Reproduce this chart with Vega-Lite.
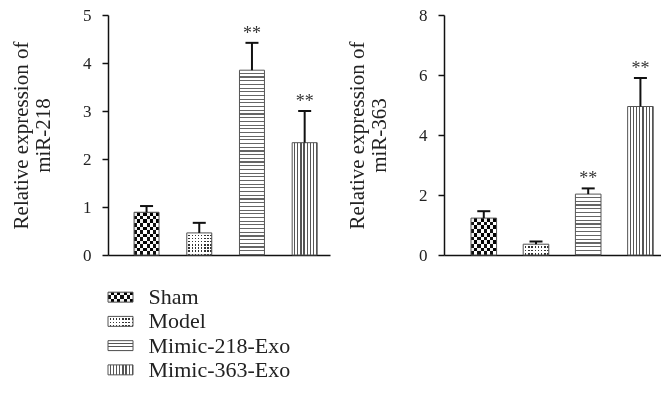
{
  "$schema": "https://vega.github.io/schema/vega-lite/v6.json",
  "background": "white",
  "padding": {"left": 7, "top": 6, "right": 5, "bottom": 0},
  "data": {"values": [
    {"gene": "miR-218", "group": "Sham", "mean": 0.89, "upper": 1.02, "sig": ""},
    {"gene": "miR-218", "group": "Model", "mean": 0.46, "upper": 0.67, "sig": ""},
    {"gene": "miR-218", "group": "Mimic-218-Exo", "mean": 3.85, "upper": 4.42, "sig": "**"},
    {"gene": "miR-218", "group": "Mimic-363-Exo", "mean": 2.34, "upper": 3.0, "sig": "**"},
    {"gene": "miR-363", "group": "Sham", "mean": 1.23, "upper": 1.46, "sig": ""},
    {"gene": "miR-363", "group": "Model", "mean": 0.36, "upper": 0.45, "sig": ""},
    {"gene": "miR-363", "group": "Mimic-218-Exo", "mean": 2.03, "upper": 2.22, "sig": "**"},
    {"gene": "miR-363", "group": "Mimic-363-Exo", "mean": 4.95, "upper": 5.9, "sig": "**"}
  ]},
  "spacing": 22,
  "vconcat": [
    {
      "spacing": 16,
      "hconcat": [
        {
          "width": 222, "height": 240,
          "transform": [{"filter": "datum.gene === 'miR-218'"}],
          "encoding": {
            "x": {"field": "group", "type": "nominal", "sort": ["Sham", "Model", "Mimic-218-Exo", "Mimic-363-Exo"],
              "scale": {"paddingInner": 0.526, "paddingOuter": 0.369, "align": 0.67},
              "axis": {"title": null, "labels": false, "ticks": false}}
          },
          "layer": [
            {
              "mark": {"type": "bar"},
              "encoding": {
                "y": {"field": "mean", "type": "quantitative", "scale": {"domain": [0, 5]},
                  "axis": {"values": [0, 1, 2, 3, 4, 5], "title": ["Relative expression of", "miR-218"]}},
                "fill": {
                  "condition": [
                    {"test": "datum.group === 'Sham'", "value": {"gradient": "linear", "x1": 0, "y1": 0, "x2": 1, "y2": 0, "stops": [
                      {"offset": 0, "color": "#111"}, {"offset": 0.125, "color": "#111"}, {"offset": 0.125, "color": "#fff"}, {"offset": 0.25, "color": "#fff"},
                      {"offset": 0.25, "color": "#111"}, {"offset": 0.375, "color": "#111"}, {"offset": 0.375, "color": "#fff"}, {"offset": 0.5, "color": "#fff"},
                      {"offset": 0.5, "color": "#111"}, {"offset": 0.625, "color": "#111"}, {"offset": 0.625, "color": "#fff"}, {"offset": 0.75, "color": "#fff"},
                      {"offset": 0.75, "color": "#111"}, {"offset": 0.875, "color": "#111"}, {"offset": 0.875, "color": "#fff"}, {"offset": 1, "color": "#fff"}]}},
                    {"test": "datum.group === 'Model'", "value": {"gradient": "linear", "x1": 0, "y1": 0, "x2": 1, "y2": 0, "stops": [
                      {"offset": 0, "color": "#fff"}, {"offset": 0.069, "color": "#fff"}, {"offset": 0.069, "color": "#333"}, {"offset": 0.125, "color": "#333"},
                      {"offset": 0.125, "color": "#fff"}, {"offset": 0.194, "color": "#fff"}, {"offset": 0.194, "color": "#333"}, {"offset": 0.25, "color": "#333"},
                      {"offset": 0.25, "color": "#fff"}, {"offset": 0.319, "color": "#fff"}, {"offset": 0.319, "color": "#333"}, {"offset": 0.375, "color": "#333"},
                      {"offset": 0.375, "color": "#fff"}, {"offset": 0.444, "color": "#fff"}, {"offset": 0.444, "color": "#333"}, {"offset": 0.5, "color": "#333"},
                      {"offset": 0.5, "color": "#fff"}, {"offset": 0.569, "color": "#fff"}, {"offset": 0.569, "color": "#333"}, {"offset": 0.625, "color": "#333"},
                      {"offset": 0.625, "color": "#fff"}, {"offset": 0.694, "color": "#fff"}, {"offset": 0.694, "color": "#333"}, {"offset": 0.75, "color": "#333"},
                      {"offset": 0.75, "color": "#fff"}, {"offset": 0.819, "color": "#fff"}, {"offset": 0.819, "color": "#333"}, {"offset": 0.875, "color": "#333"},
                      {"offset": 0.875, "color": "#fff"}, {"offset": 0.944, "color": "#fff"}, {"offset": 0.944, "color": "#333"}, {"offset": 1, "color": "#333"}]}},
                    {"test": "datum.group === 'Mimic-218-Exo'", "value": {"gradient": "linear", "x1": 0, "y1": 0, "x2": 0, "y2": 1, "stops": [
                      {"offset": 0, "color": "#fff"}, {"offset": 0.014, "color": "#fff"}, {"offset": 0.014, "color": "#666"}, {"offset": 0.02, "color": "#666"},
                      {"offset": 0.02, "color": "#fff"}, {"offset": 0.034, "color": "#fff"}, {"offset": 0.034, "color": "#666"}, {"offset": 0.04, "color": "#666"},
                      {"offset": 0.04, "color": "#fff"}, {"offset": 0.054, "color": "#fff"}, {"offset": 0.054, "color": "#666"}, {"offset": 0.06, "color": "#666"},
                      {"offset": 0.06, "color": "#fff"}, {"offset": 0.074, "color": "#fff"}, {"offset": 0.074, "color": "#666"}, {"offset": 0.08, "color": "#666"},
                      {"offset": 0.08, "color": "#fff"}, {"offset": 0.094, "color": "#fff"}, {"offset": 0.094, "color": "#666"}, {"offset": 0.1, "color": "#666"},
                      {"offset": 0.1, "color": "#fff"}, {"offset": 0.114, "color": "#fff"}, {"offset": 0.114, "color": "#666"}, {"offset": 0.12, "color": "#666"},
                      {"offset": 0.12, "color": "#fff"}, {"offset": 0.134, "color": "#fff"}, {"offset": 0.134, "color": "#666"}, {"offset": 0.14, "color": "#666"},
                      {"offset": 0.14, "color": "#fff"}, {"offset": 0.154, "color": "#fff"}, {"offset": 0.154, "color": "#666"}, {"offset": 0.16, "color": "#666"},
                      {"offset": 0.16, "color": "#fff"}, {"offset": 0.174, "color": "#fff"}, {"offset": 0.174, "color": "#666"}, {"offset": 0.18, "color": "#666"},
                      {"offset": 0.18, "color": "#fff"}, {"offset": 0.194, "color": "#fff"}, {"offset": 0.194, "color": "#666"}, {"offset": 0.2, "color": "#666"},
                      {"offset": 0.2, "color": "#fff"}, {"offset": 0.214, "color": "#fff"}, {"offset": 0.214, "color": "#666"}, {"offset": 0.22, "color": "#666"},
                      {"offset": 0.22, "color": "#fff"}, {"offset": 0.234, "color": "#fff"}, {"offset": 0.234, "color": "#666"}, {"offset": 0.24, "color": "#666"},
                      {"offset": 0.24, "color": "#fff"}, {"offset": 0.254, "color": "#fff"}, {"offset": 0.254, "color": "#666"}, {"offset": 0.26, "color": "#666"},
                      {"offset": 0.26, "color": "#fff"}, {"offset": 0.274, "color": "#fff"}, {"offset": 0.274, "color": "#666"}, {"offset": 0.28, "color": "#666"},
                      {"offset": 0.28, "color": "#fff"}, {"offset": 0.294, "color": "#fff"}, {"offset": 0.294, "color": "#666"}, {"offset": 0.3, "color": "#666"},
                      {"offset": 0.3, "color": "#fff"}, {"offset": 0.314, "color": "#fff"}, {"offset": 0.314, "color": "#666"}, {"offset": 0.32, "color": "#666"},
                      {"offset": 0.32, "color": "#fff"}, {"offset": 0.334, "color": "#fff"}, {"offset": 0.334, "color": "#666"}, {"offset": 0.34, "color": "#666"},
                      {"offset": 0.34, "color": "#fff"}, {"offset": 0.354, "color": "#fff"}, {"offset": 0.354, "color": "#666"}, {"offset": 0.36, "color": "#666"},
                      {"offset": 0.36, "color": "#fff"}, {"offset": 0.374, "color": "#fff"}, {"offset": 0.374, "color": "#666"}, {"offset": 0.38, "color": "#666"},
                      {"offset": 0.38, "color": "#fff"}, {"offset": 0.394, "color": "#fff"}, {"offset": 0.394, "color": "#666"}, {"offset": 0.4, "color": "#666"},
                      {"offset": 0.4, "color": "#fff"}, {"offset": 0.414, "color": "#fff"}, {"offset": 0.414, "color": "#666"}, {"offset": 0.42, "color": "#666"},
                      {"offset": 0.42, "color": "#fff"}, {"offset": 0.434, "color": "#fff"}, {"offset": 0.434, "color": "#666"}, {"offset": 0.44, "color": "#666"},
                      {"offset": 0.44, "color": "#fff"}, {"offset": 0.454, "color": "#fff"}, {"offset": 0.454, "color": "#666"}, {"offset": 0.46, "color": "#666"},
                      {"offset": 0.46, "color": "#fff"}, {"offset": 0.474, "color": "#fff"}, {"offset": 0.474, "color": "#666"}, {"offset": 0.48, "color": "#666"},
                      {"offset": 0.48, "color": "#fff"}, {"offset": 0.494, "color": "#fff"}, {"offset": 0.494, "color": "#666"}, {"offset": 0.5, "color": "#666"},
                      {"offset": 0.5, "color": "#fff"}, {"offset": 0.514, "color": "#fff"}, {"offset": 0.514, "color": "#666"}, {"offset": 0.52, "color": "#666"},
                      {"offset": 0.52, "color": "#fff"}, {"offset": 0.534, "color": "#fff"}, {"offset": 0.534, "color": "#666"}, {"offset": 0.54, "color": "#666"},
                      {"offset": 0.54, "color": "#fff"}, {"offset": 0.554, "color": "#fff"}, {"offset": 0.554, "color": "#666"}, {"offset": 0.56, "color": "#666"},
                      {"offset": 0.56, "color": "#fff"}, {"offset": 0.574, "color": "#fff"}, {"offset": 0.574, "color": "#666"}, {"offset": 0.58, "color": "#666"},
                      {"offset": 0.58, "color": "#fff"}, {"offset": 0.594, "color": "#fff"}, {"offset": 0.594, "color": "#666"}, {"offset": 0.6, "color": "#666"},
                      {"offset": 0.6, "color": "#fff"}, {"offset": 0.614, "color": "#fff"}, {"offset": 0.614, "color": "#666"}, {"offset": 0.62, "color": "#666"},
                      {"offset": 0.62, "color": "#fff"}, {"offset": 0.634, "color": "#fff"}, {"offset": 0.634, "color": "#666"}, {"offset": 0.64, "color": "#666"},
                      {"offset": 0.64, "color": "#fff"}, {"offset": 0.654, "color": "#fff"}, {"offset": 0.654, "color": "#666"}, {"offset": 0.66, "color": "#666"},
                      {"offset": 0.66, "color": "#fff"}, {"offset": 0.674, "color": "#fff"}, {"offset": 0.674, "color": "#666"}, {"offset": 0.68, "color": "#666"},
                      {"offset": 0.68, "color": "#fff"}, {"offset": 0.694, "color": "#fff"}, {"offset": 0.694, "color": "#666"}, {"offset": 0.7, "color": "#666"},
                      {"offset": 0.7, "color": "#fff"}, {"offset": 0.714, "color": "#fff"}, {"offset": 0.714, "color": "#666"}, {"offset": 0.72, "color": "#666"},
                      {"offset": 0.72, "color": "#fff"}, {"offset": 0.734, "color": "#fff"}, {"offset": 0.734, "color": "#666"}, {"offset": 0.74, "color": "#666"},
                      {"offset": 0.74, "color": "#fff"}, {"offset": 0.754, "color": "#fff"}, {"offset": 0.754, "color": "#666"}, {"offset": 0.76, "color": "#666"},
                      {"offset": 0.76, "color": "#fff"}, {"offset": 0.774, "color": "#fff"}, {"offset": 0.774, "color": "#666"}, {"offset": 0.78, "color": "#666"},
                      {"offset": 0.78, "color": "#fff"}, {"offset": 0.794, "color": "#fff"}, {"offset": 0.794, "color": "#666"}, {"offset": 0.8, "color": "#666"},
                      {"offset": 0.8, "color": "#fff"}, {"offset": 0.814, "color": "#fff"}, {"offset": 0.814, "color": "#666"}, {"offset": 0.82, "color": "#666"},
                      {"offset": 0.82, "color": "#fff"}, {"offset": 0.834, "color": "#fff"}, {"offset": 0.834, "color": "#666"}, {"offset": 0.84, "color": "#666"},
                      {"offset": 0.84, "color": "#fff"}, {"offset": 0.854, "color": "#fff"}, {"offset": 0.854, "color": "#666"}, {"offset": 0.86, "color": "#666"},
                      {"offset": 0.86, "color": "#fff"}, {"offset": 0.874, "color": "#fff"}, {"offset": 0.874, "color": "#666"}, {"offset": 0.88, "color": "#666"},
                      {"offset": 0.88, "color": "#fff"}, {"offset": 0.894, "color": "#fff"}, {"offset": 0.894, "color": "#666"}, {"offset": 0.9, "color": "#666"},
                      {"offset": 0.9, "color": "#fff"}, {"offset": 0.914, "color": "#fff"}, {"offset": 0.914, "color": "#666"}, {"offset": 0.92, "color": "#666"},
                      {"offset": 0.92, "color": "#fff"}, {"offset": 0.934, "color": "#fff"}, {"offset": 0.934, "color": "#666"}, {"offset": 0.94, "color": "#666"},
                      {"offset": 0.94, "color": "#fff"}, {"offset": 0.954, "color": "#fff"}, {"offset": 0.954, "color": "#666"}, {"offset": 0.96, "color": "#666"},
                      {"offset": 0.96, "color": "#fff"}, {"offset": 0.974, "color": "#fff"}, {"offset": 0.974, "color": "#666"}, {"offset": 0.98, "color": "#666"},
                      {"offset": 0.98, "color": "#fff"}, {"offset": 0.994, "color": "#fff"}, {"offset": 0.994, "color": "#666"}, {"offset": 1, "color": "#666"}]}}
                  ],
                  "value": {"gradient": "linear", "x1": 0, "y1": 0, "x2": 1, "y2": 0, "stops": [
                    {"offset": 0, "color": "#fff"}, {"offset": 0.075, "color": "#fff"}, {"offset": 0.075, "color": "#555"}, {"offset": 0.125, "color": "#555"},
                    {"offset": 0.125, "color": "#fff"}, {"offset": 0.2, "color": "#fff"}, {"offset": 0.2, "color": "#555"}, {"offset": 0.25, "color": "#555"},
                    {"offset": 0.25, "color": "#fff"}, {"offset": 0.325, "color": "#fff"}, {"offset": 0.325, "color": "#555"}, {"offset": 0.375, "color": "#555"},
                    {"offset": 0.375, "color": "#fff"}, {"offset": 0.45, "color": "#fff"}, {"offset": 0.45, "color": "#555"}, {"offset": 0.5, "color": "#555"},
                    {"offset": 0.5, "color": "#fff"}, {"offset": 0.575, "color": "#fff"}, {"offset": 0.575, "color": "#555"}, {"offset": 0.625, "color": "#555"},
                    {"offset": 0.625, "color": "#fff"}, {"offset": 0.7, "color": "#fff"}, {"offset": 0.7, "color": "#555"}, {"offset": 0.75, "color": "#555"},
                    {"offset": 0.75, "color": "#fff"}, {"offset": 0.825, "color": "#fff"}, {"offset": 0.825, "color": "#555"}, {"offset": 0.875, "color": "#555"},
                    {"offset": 0.875, "color": "#fff"}, {"offset": 0.95, "color": "#fff"}, {"offset": 0.95, "color": "#555"}, {"offset": 1, "color": "#555"}]}
                }
              }
            },
            {
              "transform": [{"filter": "datum.group === 'Sham'"}],
              "mark": {"type": "bar", "blend": "difference", "fill": {"gradient": "linear", "x1": 0, "y1": 0, "x2": 0, "y2": 1, "stops": [
                {"offset": 0, "color": "#fff"}, {"offset": 0.0833, "color": "#fff"}, {"offset": 0.0833, "color": "rgba(255,255,255,0)"}, {"offset": 0.1667, "color": "rgba(255,255,255,0)"},
                {"offset": 0.1667, "color": "#fff"}, {"offset": 0.25, "color": "#fff"}, {"offset": 0.25, "color": "rgba(255,255,255,0)"}, {"offset": 0.3333, "color": "rgba(255,255,255,0)"},
                {"offset": 0.3333, "color": "#fff"}, {"offset": 0.4167, "color": "#fff"}, {"offset": 0.4167, "color": "rgba(255,255,255,0)"}, {"offset": 0.5, "color": "rgba(255,255,255,0)"},
                {"offset": 0.5, "color": "#fff"}, {"offset": 0.5833, "color": "#fff"}, {"offset": 0.5833, "color": "rgba(255,255,255,0)"}, {"offset": 0.6667, "color": "rgba(255,255,255,0)"},
                {"offset": 0.6667, "color": "#fff"}, {"offset": 0.75, "color": "#fff"}, {"offset": 0.75, "color": "rgba(255,255,255,0)"}, {"offset": 0.8333, "color": "rgba(255,255,255,0)"},
                {"offset": 0.8333, "color": "#fff"}, {"offset": 0.9167, "color": "#fff"}, {"offset": 0.9167, "color": "rgba(255,255,255,0)"}, {"offset": 1, "color": "rgba(255,255,255,0)"}]}},
              "encoding": {"y": {"field": "mean", "type": "quantitative"}}
            },
            {
              "transform": [{"filter": "datum.group === 'Model'"}],
              "mark": {"type": "bar", "fill": {"gradient": "linear", "x1": 0, "y1": 0, "x2": 0, "y2": 1, "stops": [
                {"offset": 0, "color": "#fff"}, {"offset": 0.0786, "color": "#fff"}, {"offset": 0.0786, "color": "rgba(255,255,255,0)"}, {"offset": 0.1429, "color": "rgba(255,255,255,0)"},
                {"offset": 0.1429, "color": "#fff"}, {"offset": 0.2214, "color": "#fff"}, {"offset": 0.2214, "color": "rgba(255,255,255,0)"}, {"offset": 0.2857, "color": "rgba(255,255,255,0)"},
                {"offset": 0.2857, "color": "#fff"}, {"offset": 0.3643, "color": "#fff"}, {"offset": 0.3643, "color": "rgba(255,255,255,0)"}, {"offset": 0.4286, "color": "rgba(255,255,255,0)"},
                {"offset": 0.4286, "color": "#fff"}, {"offset": 0.5071, "color": "#fff"}, {"offset": 0.5071, "color": "rgba(255,255,255,0)"}, {"offset": 0.5714, "color": "rgba(255,255,255,0)"},
                {"offset": 0.5714, "color": "#fff"}, {"offset": 0.65, "color": "#fff"}, {"offset": 0.65, "color": "rgba(255,255,255,0)"}, {"offset": 0.7143, "color": "rgba(255,255,255,0)"},
                {"offset": 0.7143, "color": "#fff"}, {"offset": 0.7929, "color": "#fff"}, {"offset": 0.7929, "color": "rgba(255,255,255,0)"}, {"offset": 0.8571, "color": "rgba(255,255,255,0)"},
                {"offset": 0.8571, "color": "#fff"}, {"offset": 0.9357, "color": "#fff"}, {"offset": 0.9357, "color": "rgba(255,255,255,0)"}, {"offset": 1, "color": "rgba(255,255,255,0)"}]}},
              "encoding": {"y": {"field": "mean", "type": "quantitative"}}
            },
            {
              "mark": {"type": "bar", "fill": "transparent", "stroke": "#555", "strokeWidth": 1},
              "encoding": {"y": {"field": "mean", "type": "quantitative"}}
            },
            {
              "mark": {"type": "rule", "color": "#111", "strokeWidth": 2},
              "encoding": {"y": {"field": "mean", "type": "quantitative"}, "y2": {"field": "upper"}}
            },
            {
              "mark": {"type": "tick", "color": "#111", "thickness": 2, "size": 13, "opacity": 1},
              "encoding": {"y": {"field": "upper", "type": "quantitative"}}
            },
            {
              "transform": [{"filter": "datum.sig != ''"}],
              "mark": {"type": "text", "font": "Liberation Serif", "fontSize": 18, "baseline": "alphabetic", "dy": -4, "color": "#333"},
              "encoding": {"y": {"field": "upper", "type": "quantitative"}, "text": {"field": "sig"}}
            }
          ]
        },
        {
          "width": 217, "height": 240,
          "transform": [{"filter": "datum.gene === 'miR-363'"}],
          "encoding": {
            "x": {"field": "group", "type": "nominal", "sort": ["Sham", "Model", "Mimic-218-Exo", "Mimic-363-Exo"],
              "scale": {"paddingInner": 0.51, "paddingOuter": 0.333, "align": 0.776},
              "axis": {"title": null, "labels": false, "ticks": false}}
          },
          "layer": [
            {
              "mark": {"type": "bar"},
              "encoding": {
                "y": {"field": "mean", "type": "quantitative", "scale": {"domain": [0, 8]},
                  "axis": {"values": [0, 2, 4, 6, 8], "title": ["Relative expression of", "miR-363"]}},
                "fill": {
                  "condition": [
                    {"test": "datum.group === 'Sham'", "value": {"gradient": "linear", "x1": 0, "y1": 0, "x2": 1, "y2": 0, "stops": [
                      {"offset": 0, "color": "#111"}, {"offset": 0.125, "color": "#111"}, {"offset": 0.125, "color": "#fff"}, {"offset": 0.25, "color": "#fff"},
                      {"offset": 0.25, "color": "#111"}, {"offset": 0.375, "color": "#111"}, {"offset": 0.375, "color": "#fff"}, {"offset": 0.5, "color": "#fff"},
                      {"offset": 0.5, "color": "#111"}, {"offset": 0.625, "color": "#111"}, {"offset": 0.625, "color": "#fff"}, {"offset": 0.75, "color": "#fff"},
                      {"offset": 0.75, "color": "#111"}, {"offset": 0.875, "color": "#111"}, {"offset": 0.875, "color": "#fff"}, {"offset": 1, "color": "#fff"}]}},
                    {"test": "datum.group === 'Model'", "value": {"gradient": "linear", "x1": 0, "y1": 0, "x2": 1, "y2": 0, "stops": [
                      {"offset": 0, "color": "#fff"}, {"offset": 0.069, "color": "#fff"}, {"offset": 0.069, "color": "#333"}, {"offset": 0.125, "color": "#333"},
                      {"offset": 0.125, "color": "#fff"}, {"offset": 0.194, "color": "#fff"}, {"offset": 0.194, "color": "#333"}, {"offset": 0.25, "color": "#333"},
                      {"offset": 0.25, "color": "#fff"}, {"offset": 0.319, "color": "#fff"}, {"offset": 0.319, "color": "#333"}, {"offset": 0.375, "color": "#333"},
                      {"offset": 0.375, "color": "#fff"}, {"offset": 0.444, "color": "#fff"}, {"offset": 0.444, "color": "#333"}, {"offset": 0.5, "color": "#333"},
                      {"offset": 0.5, "color": "#fff"}, {"offset": 0.569, "color": "#fff"}, {"offset": 0.569, "color": "#333"}, {"offset": 0.625, "color": "#333"},
                      {"offset": 0.625, "color": "#fff"}, {"offset": 0.694, "color": "#fff"}, {"offset": 0.694, "color": "#333"}, {"offset": 0.75, "color": "#333"},
                      {"offset": 0.75, "color": "#fff"}, {"offset": 0.819, "color": "#fff"}, {"offset": 0.819, "color": "#333"}, {"offset": 0.875, "color": "#333"},
                      {"offset": 0.875, "color": "#fff"}, {"offset": 0.944, "color": "#fff"}, {"offset": 0.944, "color": "#333"}, {"offset": 1, "color": "#333"}]}},
                    {"test": "datum.group === 'Mimic-218-Exo'", "value": {"gradient": "linear", "x1": 0, "y1": 0, "x2": 0, "y2": 1, "stops": [
                      {"offset": 0, "color": "#fff"}, {"offset": 0.04375, "color": "#fff"}, {"offset": 0.04375, "color": "#666"}, {"offset": 0.0625, "color": "#666"},
                      {"offset": 0.0625, "color": "#fff"}, {"offset": 0.10625, "color": "#fff"}, {"offset": 0.10625, "color": "#666"}, {"offset": 0.125, "color": "#666"},
                      {"offset": 0.125, "color": "#fff"}, {"offset": 0.16875, "color": "#fff"}, {"offset": 0.16875, "color": "#666"}, {"offset": 0.1875, "color": "#666"},
                      {"offset": 0.1875, "color": "#fff"}, {"offset": 0.23125, "color": "#fff"}, {"offset": 0.23125, "color": "#666"}, {"offset": 0.25, "color": "#666"},
                      {"offset": 0.25, "color": "#fff"}, {"offset": 0.29375, "color": "#fff"}, {"offset": 0.29375, "color": "#666"}, {"offset": 0.3125, "color": "#666"},
                      {"offset": 0.3125, "color": "#fff"}, {"offset": 0.35625, "color": "#fff"}, {"offset": 0.35625, "color": "#666"}, {"offset": 0.375, "color": "#666"},
                      {"offset": 0.375, "color": "#fff"}, {"offset": 0.41875, "color": "#fff"}, {"offset": 0.41875, "color": "#666"}, {"offset": 0.4375, "color": "#666"},
                      {"offset": 0.4375, "color": "#fff"}, {"offset": 0.48125, "color": "#fff"}, {"offset": 0.48125, "color": "#666"}, {"offset": 0.5, "color": "#666"},
                      {"offset": 0.5, "color": "#fff"}, {"offset": 0.54375, "color": "#fff"}, {"offset": 0.54375, "color": "#666"}, {"offset": 0.5625, "color": "#666"},
                      {"offset": 0.5625, "color": "#fff"}, {"offset": 0.60625, "color": "#fff"}, {"offset": 0.60625, "color": "#666"}, {"offset": 0.625, "color": "#666"},
                      {"offset": 0.625, "color": "#fff"}, {"offset": 0.66875, "color": "#fff"}, {"offset": 0.66875, "color": "#666"}, {"offset": 0.6875, "color": "#666"},
                      {"offset": 0.6875, "color": "#fff"}, {"offset": 0.73125, "color": "#fff"}, {"offset": 0.73125, "color": "#666"}, {"offset": 0.75, "color": "#666"},
                      {"offset": 0.75, "color": "#fff"}, {"offset": 0.79375, "color": "#fff"}, {"offset": 0.79375, "color": "#666"}, {"offset": 0.8125, "color": "#666"},
                      {"offset": 0.8125, "color": "#fff"}, {"offset": 0.85625, "color": "#fff"}, {"offset": 0.85625, "color": "#666"}, {"offset": 0.875, "color": "#666"},
                      {"offset": 0.875, "color": "#fff"}, {"offset": 0.91875, "color": "#fff"}, {"offset": 0.91875, "color": "#666"}, {"offset": 0.9375, "color": "#666"},
                      {"offset": 0.9375, "color": "#fff"}, {"offset": 0.98125, "color": "#fff"}, {"offset": 0.98125, "color": "#666"}, {"offset": 1, "color": "#666"}]}}
                  ],
                  "value": {"gradient": "linear", "x1": 0, "y1": 0, "x2": 1, "y2": 0, "stops": [
                    {"offset": 0, "color": "#fff"}, {"offset": 0.075, "color": "#fff"}, {"offset": 0.075, "color": "#555"}, {"offset": 0.125, "color": "#555"},
                    {"offset": 0.125, "color": "#fff"}, {"offset": 0.2, "color": "#fff"}, {"offset": 0.2, "color": "#555"}, {"offset": 0.25, "color": "#555"},
                    {"offset": 0.25, "color": "#fff"}, {"offset": 0.325, "color": "#fff"}, {"offset": 0.325, "color": "#555"}, {"offset": 0.375, "color": "#555"},
                    {"offset": 0.375, "color": "#fff"}, {"offset": 0.45, "color": "#fff"}, {"offset": 0.45, "color": "#555"}, {"offset": 0.5, "color": "#555"},
                    {"offset": 0.5, "color": "#fff"}, {"offset": 0.575, "color": "#fff"}, {"offset": 0.575, "color": "#555"}, {"offset": 0.625, "color": "#555"},
                    {"offset": 0.625, "color": "#fff"}, {"offset": 0.7, "color": "#fff"}, {"offset": 0.7, "color": "#555"}, {"offset": 0.75, "color": "#555"},
                    {"offset": 0.75, "color": "#fff"}, {"offset": 0.825, "color": "#fff"}, {"offset": 0.825, "color": "#555"}, {"offset": 0.875, "color": "#555"},
                    {"offset": 0.875, "color": "#fff"}, {"offset": 0.95, "color": "#fff"}, {"offset": 0.95, "color": "#555"}, {"offset": 1, "color": "#555"}]}
                }
              }
            },
            {
              "transform": [{"filter": "datum.group === 'Sham'"}],
              "mark": {"type": "bar", "blend": "difference", "fill": {"gradient": "linear", "x1": 0, "y1": 0, "x2": 0, "y2": 1, "stops": [
                {"offset": 0, "color": "#fff"}, {"offset": 0.1, "color": "#fff"}, {"offset": 0.1, "color": "rgba(255,255,255,0)"}, {"offset": 0.2, "color": "rgba(255,255,255,0)"},
                {"offset": 0.2, "color": "#fff"}, {"offset": 0.3, "color": "#fff"}, {"offset": 0.3, "color": "rgba(255,255,255,0)"}, {"offset": 0.4, "color": "rgba(255,255,255,0)"},
                {"offset": 0.4, "color": "#fff"}, {"offset": 0.5, "color": "#fff"}, {"offset": 0.5, "color": "rgba(255,255,255,0)"}, {"offset": 0.6, "color": "rgba(255,255,255,0)"},
                {"offset": 0.6, "color": "#fff"}, {"offset": 0.7, "color": "#fff"}, {"offset": 0.7, "color": "rgba(255,255,255,0)"}, {"offset": 0.8, "color": "rgba(255,255,255,0)"},
                {"offset": 0.8, "color": "#fff"}, {"offset": 0.9, "color": "#fff"}, {"offset": 0.9, "color": "rgba(255,255,255,0)"}, {"offset": 1, "color": "rgba(255,255,255,0)"}]}},
              "encoding": {"y": {"field": "mean", "type": "quantitative"}}
            },
            {
              "transform": [{"filter": "datum.group === 'Model'"}],
              "mark": {"type": "bar", "fill": {"gradient": "linear", "x1": 0, "y1": 0, "x2": 0, "y2": 1, "stops": [
                {"offset": 0, "color": "#fff"}, {"offset": 0.1833, "color": "#fff"}, {"offset": 0.1833, "color": "rgba(255,255,255,0)"}, {"offset": 0.3333, "color": "rgba(255,255,255,0)"},
                {"offset": 0.3333, "color": "#fff"}, {"offset": 0.5167, "color": "#fff"}, {"offset": 0.5167, "color": "rgba(255,255,255,0)"}, {"offset": 0.6667, "color": "rgba(255,255,255,0)"},
                {"offset": 0.6667, "color": "#fff"}, {"offset": 0.85, "color": "#fff"}, {"offset": 0.85, "color": "rgba(255,255,255,0)"}, {"offset": 1, "color": "rgba(255,255,255,0)"}]}},
              "encoding": {"y": {"field": "mean", "type": "quantitative"}}
            },
            {
              "mark": {"type": "bar", "fill": "transparent", "stroke": "#555", "strokeWidth": 1},
              "encoding": {"y": {"field": "mean", "type": "quantitative"}}
            },
            {
              "mark": {"type": "rule", "color": "#111", "strokeWidth": 2},
              "encoding": {"y": {"field": "mean", "type": "quantitative"}, "y2": {"field": "upper"}}
            },
            {
              "mark": {"type": "tick", "color": "#111", "thickness": 2, "size": 13, "opacity": 1},
              "encoding": {"y": {"field": "upper", "type": "quantitative"}}
            },
            {
              "transform": [{"filter": "datum.sig != ''"}],
              "mark": {"type": "text", "font": "Liberation Serif", "fontSize": 18, "baseline": "alphabetic", "dy": -4, "color": "#333"},
              "encoding": {"y": {"field": "upper", "type": "quantitative"}, "text": {"field": "sig"}}
            }
          ]
        }
      ]
    },
    {
      "spacing": 14,
      "hconcat": [
        {
          "width": 25, "height": 97,
          "transform": [{"filter": "datum.gene === 'miR-218'"}],
          "encoding": {
            "y": {"field": "group", "type": "nominal", "sort": ["Sham", "Model", "Mimic-218-Exo", "Mimic-363-Exo"],
              "scale": {"paddingInner": 0.59, "paddingOuter": 0.295},
              "axis": {"labels": false, "ticks": false, "domain": false, "title": null, "minExtent": 101, "maxExtent": 101}}
          },
          "layer": [
            {
              "mark": {"type": "bar"},
              "encoding": {
                "fill": {
                  "condition": [
                    {"test": "datum.group === 'Sham'", "value": {"gradient": "linear", "x1": 0, "y1": 0, "x2": 1, "y2": 0, "stops": [
                      {"offset": 0, "color": "#111"}, {"offset": 0.125, "color": "#111"}, {"offset": 0.125, "color": "#fff"}, {"offset": 0.25, "color": "#fff"},
                      {"offset": 0.25, "color": "#111"}, {"offset": 0.375, "color": "#111"}, {"offset": 0.375, "color": "#fff"}, {"offset": 0.5, "color": "#fff"},
                      {"offset": 0.5, "color": "#111"}, {"offset": 0.625, "color": "#111"}, {"offset": 0.625, "color": "#fff"}, {"offset": 0.75, "color": "#fff"},
                      {"offset": 0.75, "color": "#111"}, {"offset": 0.875, "color": "#111"}, {"offset": 0.875, "color": "#fff"}, {"offset": 1, "color": "#fff"}]}},
                    {"test": "datum.group === 'Model'", "value": {"gradient": "linear", "x1": 0, "y1": 0, "x2": 1, "y2": 0, "stops": [
                      {"offset": 0, "color": "#fff"}, {"offset": 0.069, "color": "#fff"}, {"offset": 0.069, "color": "#333"}, {"offset": 0.125, "color": "#333"},
                      {"offset": 0.125, "color": "#fff"}, {"offset": 0.194, "color": "#fff"}, {"offset": 0.194, "color": "#333"}, {"offset": 0.25, "color": "#333"},
                      {"offset": 0.25, "color": "#fff"}, {"offset": 0.319, "color": "#fff"}, {"offset": 0.319, "color": "#333"}, {"offset": 0.375, "color": "#333"},
                      {"offset": 0.375, "color": "#fff"}, {"offset": 0.444, "color": "#fff"}, {"offset": 0.444, "color": "#333"}, {"offset": 0.5, "color": "#333"},
                      {"offset": 0.5, "color": "#fff"}, {"offset": 0.569, "color": "#fff"}, {"offset": 0.569, "color": "#333"}, {"offset": 0.625, "color": "#333"},
                      {"offset": 0.625, "color": "#fff"}, {"offset": 0.694, "color": "#fff"}, {"offset": 0.694, "color": "#333"}, {"offset": 0.75, "color": "#333"},
                      {"offset": 0.75, "color": "#fff"}, {"offset": 0.819, "color": "#fff"}, {"offset": 0.819, "color": "#333"}, {"offset": 0.875, "color": "#333"},
                      {"offset": 0.875, "color": "#fff"}, {"offset": 0.944, "color": "#fff"}, {"offset": 0.944, "color": "#333"}, {"offset": 1, "color": "#333"}]}},
                    {"test": "datum.group === 'Mimic-218-Exo'", "value": {"gradient": "linear", "x1": 0, "y1": 0, "x2": 0, "y2": 1, "stops": [
                      {"offset": 0, "color": "#fff"}, {"offset": 0.2333, "color": "#fff"}, {"offset": 0.2333, "color": "#555"}, {"offset": 0.3333, "color": "#555"},
                      {"offset": 0.3333, "color": "#fff"}, {"offset": 0.5667, "color": "#fff"}, {"offset": 0.5667, "color": "#555"}, {"offset": 0.6667, "color": "#555"},
                      {"offset": 0.6667, "color": "#fff"}, {"offset": 0.9, "color": "#fff"}, {"offset": 0.9, "color": "#555"}, {"offset": 1, "color": "#555"}]}}
                  ],
                  "value": {"gradient": "linear", "x1": 0, "y1": 0, "x2": 1, "y2": 0, "stops": [
                    {"offset": 0, "color": "#fff"}, {"offset": 0.075, "color": "#fff"}, {"offset": 0.075, "color": "#555"}, {"offset": 0.125, "color": "#555"},
                    {"offset": 0.125, "color": "#fff"}, {"offset": 0.2, "color": "#fff"}, {"offset": 0.2, "color": "#555"}, {"offset": 0.25, "color": "#555"},
                    {"offset": 0.25, "color": "#fff"}, {"offset": 0.325, "color": "#fff"}, {"offset": 0.325, "color": "#555"}, {"offset": 0.375, "color": "#555"},
                    {"offset": 0.375, "color": "#fff"}, {"offset": 0.45, "color": "#fff"}, {"offset": 0.45, "color": "#555"}, {"offset": 0.5, "color": "#555"},
                    {"offset": 0.5, "color": "#fff"}, {"offset": 0.575, "color": "#fff"}, {"offset": 0.575, "color": "#555"}, {"offset": 0.625, "color": "#555"},
                    {"offset": 0.625, "color": "#fff"}, {"offset": 0.7, "color": "#fff"}, {"offset": 0.7, "color": "#555"}, {"offset": 0.75, "color": "#555"},
                    {"offset": 0.75, "color": "#fff"}, {"offset": 0.825, "color": "#fff"}, {"offset": 0.825, "color": "#555"}, {"offset": 0.875, "color": "#555"},
                    {"offset": 0.875, "color": "#fff"}, {"offset": 0.95, "color": "#fff"}, {"offset": 0.95, "color": "#555"}, {"offset": 1, "color": "#555"}]}
                }
              }
            },
            {
              "transform": [{"filter": "datum.group === 'Sham'"}],
              "mark": {"type": "bar", "blend": "difference", "fill": {"gradient": "linear", "x1": 0, "y1": 0, "x2": 0, "y2": 1, "stops": [
                {"offset": 0, "color": "#fff"}, {"offset": 0.3333, "color": "#fff"}, {"offset": 0.3333, "color": "rgba(255,255,255,0)"}, {"offset": 0.6667, "color": "rgba(255,255,255,0)"},
                {"offset": 0.6667, "color": "#fff"}, {"offset": 1, "color": "#fff"}]}}
            },
            {
              "transform": [{"filter": "datum.group === 'Model'"}],
              "mark": {"type": "bar", "fill": {"gradient": "linear", "x1": 0, "y1": 0, "x2": 0, "y2": 1, "stops": [
                {"offset": 0, "color": "#fff"}, {"offset": 0.1833, "color": "#fff"}, {"offset": 0.1833, "color": "rgba(255,255,255,0)"}, {"offset": 0.3333, "color": "rgba(255,255,255,0)"},
                {"offset": 0.3333, "color": "#fff"}, {"offset": 0.5167, "color": "#fff"}, {"offset": 0.5167, "color": "rgba(255,255,255,0)"}, {"offset": 0.6667, "color": "rgba(255,255,255,0)"},
                {"offset": 0.6667, "color": "#fff"}, {"offset": 0.85, "color": "#fff"}, {"offset": 0.85, "color": "rgba(255,255,255,0)"}, {"offset": 1, "color": "rgba(255,255,255,0)"}]}}
            },
            {
              "mark": {"type": "bar", "fill": "transparent", "stroke": "#555", "strokeWidth": 1}
            }
          ]
        },
        {
          "width": 1, "height": 97,
          "transform": [{"filter": "datum.gene === 'miR-218'"}],
          "mark": {"type": "text", "align": "left", "baseline": "middle", "font": "Liberation Serif", "fontSize": 22, "color": "#222"},
          "encoding": {
            "y": {"field": "group", "type": "nominal", "sort": ["Sham", "Model", "Mimic-218-Exo", "Mimic-363-Exo"],
              "scale": {"paddingInner": 0.59, "paddingOuter": 0.295}, "axis": null},
            "text": {"field": "group"}
          }
        }
      ]
    }
  ],
  "config": {
    "view": {"stroke": null},
    "font": "Liberation Serif",
    "axis": {
      "grid": false,
      "domainColor": "#111", "domainWidth": 1.5,
      "tickColor": "#111", "tickWidth": 1.5, "tickSize": 6,
      "labelFont": "Liberation Serif", "labelFontSize": 17, "labelColor": "#222", "labelPadding": 11,
      "titleFont": "Liberation Serif", "titleFontSize": 21, "titleFontWeight": "normal", "titleColor": "#222",
      "titlePadding": 29, "titleLineHeight": 22
    }
  }
}
